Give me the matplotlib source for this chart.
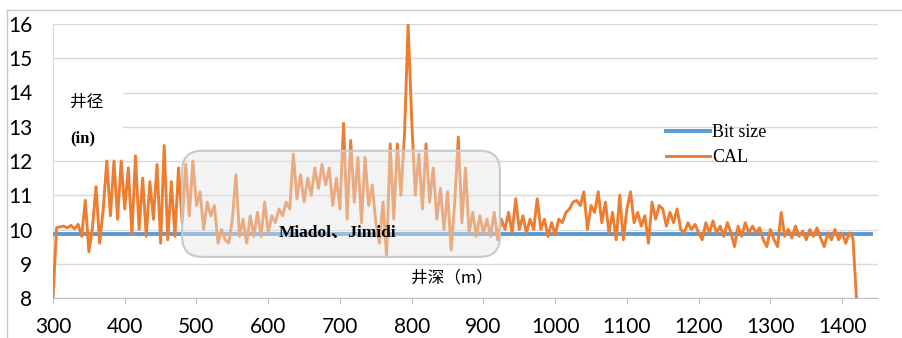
import numpy as np
import matplotlib
matplotlib.use("Agg")
import matplotlib.pyplot as plt
from matplotlib.patches import FancyBboxPatch, Rectangle
from matplotlib.lines import Line2D

plt.rcParams['font.family'] = ['Lato', 'DejaVu Sans']

# caliper readings every 5 m, 300 .. 1420 m
depth = np.arange(300, 1421, 5)
cal = [
    8.0, 10.05, 10.08, 10.1, 10.05, 10.12, 10.02, 10.15, 9.8, 10.85,
    9.35, 10.05, 11.25, 9.6, 10.6, 12.0, 10.4, 12.0, 10.3, 12.0,
    10.6, 11.8, 9.85, 12.15, 10.0, 11.5, 9.8, 11.4, 10.3, 11.9,
    9.6, 12.45, 9.7, 11.4, 9.8, 11.8, 10.2, 11.9, 10.4, 12.0,
    10.7, 11.1, 10.0, 10.8, 10.4, 10.7, 9.6, 10.0, 9.7, 9.6,
    10.3, 11.6, 9.8, 10.3, 9.6, 10.4, 9.8, 10.5, 9.8, 10.8,
    9.9, 10.4, 10.2, 10.6, 10.4, 10.8, 10.6, 12.2, 10.9, 11.6,
    10.8, 11.5, 11.0, 11.8, 11.2, 11.9, 11.3, 11.8, 10.7, 11.5,
    10.6, 13.1, 10.3, 12.6, 10.8, 12.1, 10.2, 12.1, 10.7, 11.3,
    10.2, 9.6, 10.8, 9.2, 12.5, 10.3, 12.5, 11.0, 12.8, 16.0,
    13.2, 11.0, 12.2, 10.6, 12.5, 10.8, 11.8, 10.3, 11.2, 10.0,
    11.1, 9.4, 10.8, 12.7, 10.2, 11.8, 9.9, 10.5, 9.8, 10.4,
    9.9, 10.3, 9.8, 10.5, 9.7, 10.3, 10.0, 10.5, 9.9, 10.9,
    10.0, 10.4, 9.9, 10.3, 10.0, 10.9, 10.0, 10.3, 9.8, 10.2,
    9.85, 10.3, 10.2, 10.5, 10.6, 10.8, 10.85, 10.7, 11.1, 10.0,
    10.7, 10.5, 11.1, 10.2, 10.8, 9.9, 10.5, 9.7, 11.0, 9.7,
    10.6, 11.1, 10.2, 10.5, 10.1, 10.4, 9.6, 10.8, 10.3, 10.7,
    10.6, 10.1, 10.5, 10.2, 10.6, 10.0, 9.9, 10.2, 10.0, 10.15,
    9.9, 9.7, 10.2, 9.9, 10.25, 9.9, 10.1, 9.8, 10.2, 9.9,
    9.5, 10.1, 9.8, 10.2, 9.9, 10.1, 9.9, 10.05, 9.7, 9.5,
    10.0, 9.7, 9.5, 10.5, 9.8, 10.0, 9.75, 10.1, 9.8, 9.95,
    9.7, 10.0, 9.8, 10.05, 9.75, 9.5, 9.9, 9.7, 10.0, 9.7,
    9.9, 9.6, 9.9, 9.75, 8.0,
]
bit_depth = [300, 1440]
bit_size = [9.875, 9.875]
xticks = list(range(300, 1401, 100))
yticks = list(range(8, 17))

fig = plt.figure(figsize=(9.02, 3.38), dpi=100)
ax = fig.add_axes([53 / 902, 40 / 338, 825 / 902, 274 / 338])

ax.plot(bit_depth, bit_size, color="#5B9BD5", lw=2.8, label="Bit size", zorder=3)
ax.plot(depth, cal, color="#ED7D31", lw=2.1, label="CAL", zorder=4)

ax.set_xlim(300, 1450)
ax.set_ylim(8, 16)
ax.set_xticks(xticks)
ax.set_yticks(yticks)
ax.grid(axis="y", color="#D9D9D9", lw=1)
ax.set_axisbelow(True)
for s in ["top", "right"]:
    ax.spines[s].set_visible(False)
ax.spines["left"].set_color("#D9D9D9")
ax.spines["bottom"].set_color("#BFBFBF")
ax.tick_params(axis="y", length=0, pad=15, labelsize=15, colors="#000000")
ax.tick_params(axis="x", length=4, color="#BFBFBF", pad=10, labelsize=15)

# white patch hiding the gridlines behind the axis label
ax.add_patch(Rectangle((300.5, 12.45), 97, 1.95, facecolor="white", edgecolor="none", zorder=2))

# translucent rounded box over the Miadol / Jimidi interval
box = FancyBboxPatch((480, 9.2), 443, 3.1,
                     boxstyle="round,pad=0,rounding_size=28",
                     mutation_aspect=0.0209,
                     facecolor="#E6E6E6", alpha=0.45, edgecolor="none", zorder=5)
ax.add_patch(box)
edge = FancyBboxPatch((480, 9.2), 443, 3.1,
                      boxstyle="round,pad=0,rounding_size=28",
                      mutation_aspect=0.0209,
                      facecolor="none", edgecolor="#C8C8C8", lw=1.5, zorder=6)
ax.add_patch(edge)

ax.text(697, 9.9, "Miadol、Jimidi", family=["Liberation Serif", "Noto Sans CJK SC"],
        fontweight="bold", fontsize=12.5, ha="center", va="center", zorder=7)
ax.text(324, 13.72, "井径", family=["Noto Sans CJK SC"], fontsize=12,
        ha="left", va="center", zorder=7)
ax.text(324, 12.67, "(in)", family=["Liberation Serif"], fontweight="bold",
        fontsize=12, ha="left", va="center", zorder=7)
ax.text(856, 8.58, "井深（m）", family=["Noto Sans CJK SC"], fontsize=12,
        ha="center", va="center", zorder=7)

leg = ax.legend(loc="upper left", bbox_to_anchor=(597 / 825, (298 - 108) / 274),
                frameon=False, handlelength=2.4, handletextpad=0.15,
                labelspacing=0.45, prop={"family": "Liberation Serif", "size": 13})

# outer chart border
fig.add_artist(Line2D([7 / 902, 1], [1 - 10 / 338, 1 - 10 / 338], color="#C8C8C8", lw=1))
fig.add_artist(Line2D([7 / 902, 7 / 902], [0, 1 - 10 / 338], color="#C8C8C8", lw=1))

fig.savefig("out.png", dpi=100)
